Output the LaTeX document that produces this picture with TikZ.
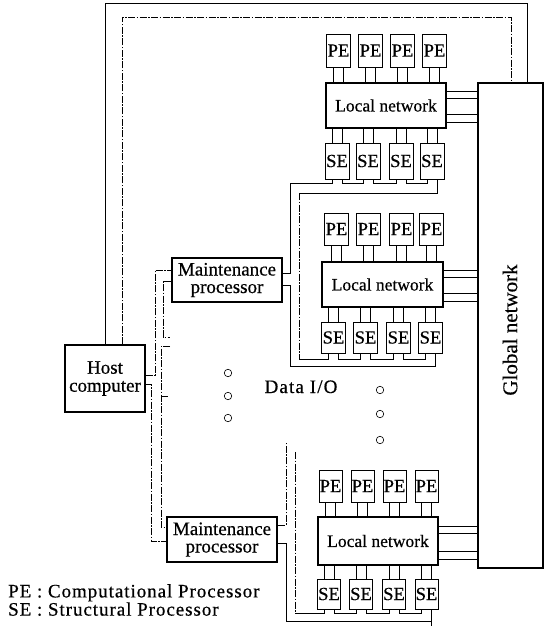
\documentclass[tikz,border=0pt]{standalone}
\usepackage{fontspec}
\setmainfont{Liberation Serif}[FakeBold=0.5]
\begin{document}
\begin{tikzpicture}[x=1pt,y=-1pt,
  box/.style={draw, line width=1.1pt, inner sep=0pt, align=center},
  unit/.style={draw, line width=0.9pt, inner sep=0pt, minimum width=24pt, font=\fontsize{18.5}{18.5}\selectfont},
  lnet/.style={box, font=\fontsize{17.5}{17.5}\selectfont},
  mproc/.style={box, minimum width=110pt, minimum height=44pt, font=\fontsize{19}{17.5}\selectfont},
  conn/.style={line width=0.8pt},
  dconn/.style={line width=0.7pt, dash pattern=on 7pt off 1.5pt on 1.5pt off 1.5pt},
  lead/.style={line width=0.6pt},
  dot/.style={draw, circle, minimum size=7.5pt, inner sep=0pt, line width=0.6pt},
]
\useasboundingbox (0,0) rectangle (548,626);

% ---------- Global network ----------
\node[box, minimum width=65pt, minimum height=485pt] (G) at (510.5,325.5) {};
\node[rotate=90, font=\fontsize{21}{21}\selectfont] (Gt) at (510,330) {Global network};

% ---------- Group 1 ----------
\node[unit, minimum height=33pt] (P11) at (338.5,50.5) {PE};
\node[unit, minimum height=33pt] (P12) at (370.5,50.5) {PE};
\node[unit, minimum height=33pt] (P13) at (402.5,50.5) {PE};
\node[unit, minimum height=33pt] (P14) at (434.5,50.5) {PE};
\node[lnet, minimum width=120pt, minimum height=45pt] (L1) at (386,105.5) {Local network};
\node[unit, minimum height=36pt] (S11) at (337,161) {SE};
\node[unit, minimum height=36pt] (S12) at (368,161) {SE};
\node[unit, minimum height=36pt] (S13) at (401,161) {SE};
\node[unit, minimum height=36pt] (S14) at (432,161) {SE};

% ---------- Group 2 ----------
\node[unit, minimum height=32pt] (P21) at (336.5,229) {PE};
\node[unit, minimum height=32pt] (P22) at (368.5,229) {PE};
\node[unit, minimum height=32pt] (P23) at (401.5,229) {PE};
\node[unit, minimum height=32pt] (P24) at (431.5,229) {PE};
\node[lnet, minimum width=121pt, minimum height=45pt] (L2) at (382.5,284.5) {Local network};
\node[unit, minimum height=31pt] (S21) at (333.5,337.5) {SE};
\node[unit, minimum height=31pt] (S22) at (365.5,337.5) {SE};
\node[unit, minimum height=31pt] (S23) at (398.5,337.5) {SE};
\node[unit, minimum height=31pt] (S24) at (430.5,337.5) {SE};

% ---------- Group 3 ----------
\node[unit, minimum width=23pt, minimum height=32pt] (P31) at (330.5,486) {PE};
\node[unit, minimum width=23pt, minimum height=32pt] (P32) at (362.5,486) {PE};
\node[unit, minimum width=23pt, minimum height=32pt] (P33) at (394.5,486) {PE};
\node[unit, minimum width=23pt, minimum height=32pt] (P34) at (426.5,486) {PE};
\node[lnet, minimum width=120pt, minimum height=48pt] (L3) at (378,541) {Local network};
\node[unit, minimum width=23pt, minimum height=30pt] (S31) at (329,594) {SE};
\node[unit, minimum width=23pt, minimum height=30pt] (S32) at (361,594) {SE};
\node[unit, minimum width=23pt, minimum height=30pt] (S33) at (394,594) {SE};
\node[unit, minimum width=23pt, minimum height=30pt] (S34) at (426.5,594) {SE};

% ---------- Host and maintenance processors ----------
\node[box, minimum width=80pt, minimum height=67pt, font=\fontsize{19}{18}\selectfont] (H) at (105,378.5) {Host\\computer};
\node[mproc] (M1) at (227,280) {Maintenance\\processor};
\node[mproc, minimum height=45pt] (M2) at (222,539.5) {Maintenance\\processor};

% ---------- Data I/O ----------
\node[anchor=base, font=\fontsize{19}{19}\selectfont\addfontfeature{LetterSpace=6}] (D) at (301,393) {Data I/O};
\node[dot] (c1) at (228,373) {};
\node[dot] (c2) at (228,396) {};
\node[dot] (c3) at (228,418) {};
\node[dot] (c4) at (380,390) {};
\node[dot] (c5) at (380,414) {};
\node[dot] (c6) at (380,440) {};

% ---------- Legend ----------
\node[anchor=north west, align=left, inner sep=0pt, font=\fontsize{19}{16}\selectfont\addfontfeature{LetterSpace=5}] (leg) at (8,584) {PE : Computational Processor\\SE : Structural Processor};

% ---------- PE / SE leads ----------
\foreach \g in {1,2,3}{
  \foreach \i in {1,2,3,4}{
    \draw[lead] ([xshift=-5pt]P\g\i.south) -- ([xshift=-5pt]P\g\i.south |- L\g.north);
    \draw[lead] ([xshift=5pt]P\g\i.south) -- ([xshift=5pt]P\g\i.south |- L\g.north);
    \draw[lead] ([xshift=-5pt]S\g\i.north |- L\g.south) -- ([xshift=-5pt]S\g\i.north);
    \draw[lead] ([xshift=5pt]S\g\i.north |- L\g.south) -- ([xshift=5pt]S\g\i.north);
  }
}

% ---------- Local networks to global network ----------
\foreach \y in {91,98,114,122} \draw[conn] (L1.east |- 0,\y) -- (G.west |- 0,\y);
\foreach \y in {270,277,293,301} \draw[conn] (L2.east |- 0,\y) -- (G.west |- 0,\y);
\foreach \y in {526,533,551,559} \draw[conn] (L3.east |- 0,\y) -- (G.west |- 0,\y);

% ---------- SE buses ----------
\newcommand\sebus[3]{\draw[conn] ([xshift=5pt]#1.south) -- ([xshift=5pt]#1.south |- 0,#3) -- ([xshift=-5pt]#2.south |- 0,#3) -- ([xshift=-5pt]#2.south);}
\sebus{S11}{S12}{183}\sebus{S12}{S13}{183}\sebus{S13}{S14}{183}
\sebus{S21}{S22}{359}\sebus{S22}{S23}{359}\sebus{S23}{S24}{359}
\sebus{S31}{S32}{613}\sebus{S32}{S33}{613}\sebus{S33}{S34}{613}

% group 1 ring
\draw[conn] (M1.east |- 0,273) -- (290,273) -- (290,183) -- ([xshift=-5pt]S11.south |- 0,183) -- ([xshift=-5pt]S11.south);
\draw[conn] ([xshift=5pt]S14.south) -- ([xshift=5pt]S14.south |- 0,193) -- (299,193);
\draw[dconn] (299,193) -- (299,359);
\draw[conn] (299,359) -- ([xshift=-5pt]S21.south |- 0,359) -- ([xshift=-5pt]S21.south);
% group 2 return
\draw[conn] (M1.east |- 0,285) -- (290,285) -- (290,366) -- ([xshift=5pt]S24.south |- 0,366) -- ([xshift=5pt]S24.south);
% group 3
\coordinate (e1) at (286,442);
\coordinate (e2) at (295,452);
\draw[dconn] (M2.east |- 0,525) -- (286,525) -- (e1);
\draw[dconn] (e2) -- (295,613);
\draw[conn] (295,613) -- ([xshift=-5pt]S31.south |- 0,613) -- ([xshift=-5pt]S31.south);
\draw[conn] (M2.east |- 0,543) -- (286,543) -- (286,621) -- ([xshift=5pt]S34.south |- 0,621) -- ([xshift=5pt]S34.south);
\draw[conn] ([xshift=5pt]S34.south |- 0,621) -- ([xshift=5pt]S34.south |- 0,626);

% ---------- Host loops to global network ----------
\draw[conn] (H.north) -- (105,3) -- (527,3) -- (G.north -| 527,0);
\draw[dconn] ([xshift=17pt]H.north) -- (122,17) -- (511,17) -- (G.north -| 511,0);

% ---------- Host to maintenance, data I/O lines ----------
\draw[dconn] (H.east |- 0,375) -- (155,375) -- (155,270) -- (M1.west |- 0,270);
\draw[dconn] (H.east |- 0,384) -- (151,384) -- (151,541) -- (M2.west |- 0,541);
\coordinate (e3) at (170,337);
\coordinate (e4) at (170,346);
\coordinate (e5) at (168,396);
\draw[dconn] (M1.west |- 0,281) -- (163,281) -- (163,337) -- (e3);
\draw[dconn] (e4) -- (161,346) -- (161,527) -- (M2.west |- 0,527);
\draw[dconn] (161,396) -- (e5);
\end{tikzpicture}
\end{document}
